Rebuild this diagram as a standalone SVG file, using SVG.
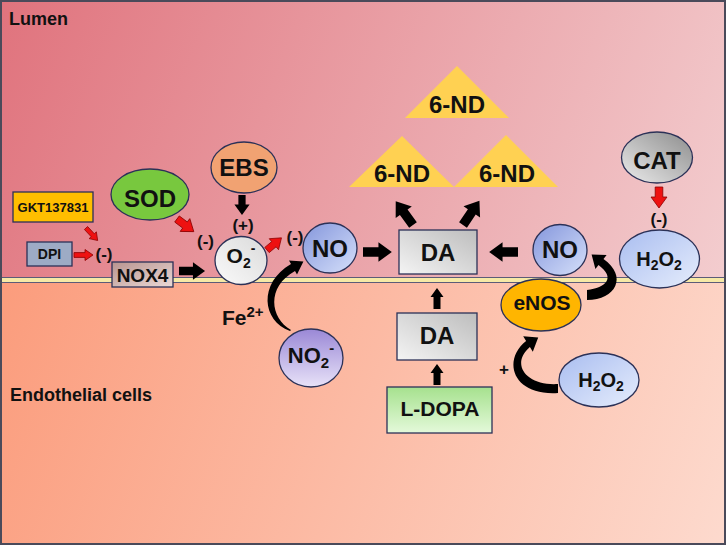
<svg xmlns="http://www.w3.org/2000/svg" xmlns:xlink="http://www.w3.org/1999/xlink" width="726" height="545" viewBox="0 0 726 545">
<defs>
<style>
text{font-family:"Liberation Sans",Arial,sans-serif;font-weight:bold;fill:#111;}
.node{stroke:#2B3157;stroke-width:1.3;}
.big{font-size:24px;}
.sign{font-size:17px;}
.lbl{font-size:18px;}
.blk{fill:#000;}
.red{fill:#EE1111;stroke:#8A0000;stroke-width:0.8;}
</style>
<linearGradient id="lumen" gradientUnits="userSpaceOnUse" x1="0" y1="0" x2="726" y2="280">
<stop offset="0" stop-color="#E0737D"/><stop offset="1" stop-color="#F3CDCF"/>
</linearGradient>
<linearGradient id="cell" gradientUnits="userSpaceOnUse" x1="0" y1="280" x2="726" y2="545">
<stop offset="0" stop-color="#FB9C7C"/><stop offset="1" stop-color="#FDDACE"/>
</linearGradient>
<linearGradient id="blue" x1="0" y1="0" x2="1" y2="1">
<stop offset="0" stop-color="#8496DC"/><stop offset="1" stop-color="#D6E0FA"/>
</linearGradient>
<linearGradient id="lblue" x1="0" y1="0" x2="1" y2="1">
<stop offset="0" stop-color="#A9BDF0"/><stop offset="1" stop-color="#E6EDFC"/>
</linearGradient>
<linearGradient id="gray" x1="1" y1="0" x2="0" y2="1">
<stop offset="0" stop-color="#BDBDBD"/><stop offset="1" stop-color="#F4F4F4"/>
</linearGradient>
<linearGradient id="cat" x1="1" y1="0" x2="0" y2="1">
<stop offset="0" stop-color="#8C8C8C"/><stop offset="1" stop-color="#ECECEC"/>
</linearGradient>
<linearGradient id="white" x1="1" y1="0" x2="0" y2="1">
<stop offset="0" stop-color="#DADADA"/><stop offset="1" stop-color="#FAFAFA"/>
</linearGradient>
<linearGradient id="purple" x1="0" y1="0" x2="0" y2="1">
<stop offset="0" stop-color="#9A88D6"/><stop offset="1" stop-color="#E8E2F8"/>
</linearGradient>
<linearGradient id="green" x1="0" y1="0" x2="0" y2="1">
<stop offset="0" stop-color="#A6E18E"/><stop offset="1" stop-color="#E4F9DA"/>
</linearGradient>
<linearGradient id="nox" x1="0" y1="0" x2="1" y2="1">
<stop offset="0" stop-color="#B8948F"/><stop offset="1" stop-color="#EBD9D6"/>
</linearGradient>
<path id="ab" d="M0,-4.5 H15 V-9.5 L28,0 L15,9.5 V4.5 H0 Z"/>
<path id="as" d="M0,-3.5 H12 V-6.5 L21,0 L12,6.5 V3.5 H0 Z"/>
<path id="rb" d="M0,-3.8 H10 V-8 L21,0 L10,8 V3.8 H0 Z"/>
<path id="rs" d="M0,-2.4 H11 V-5.5 L19,0 L11,5.5 V2.4 H0 Z"/>
</defs>

<!-- background -->
<rect x="0" y="0" width="726" height="280" fill="url(#lumen)"/>
<rect x="0" y="280" width="726" height="265" fill="url(#cell)"/>
<rect x="0" y="277.5" width="726" height="5" fill="#F6E9A6"/>
<line x1="0" y1="277.5" x2="726" y2="277.5" stroke="#5C5C78" stroke-width="1.2"/>
<line x1="0" y1="282.5" x2="726" y2="282.5" stroke="#5C5C78" stroke-width="1.2"/>
<rect x="1" y="1" width="724" height="543" fill="none" stroke="#4A4A5A" stroke-width="2"/>

<text class="lbl" x="9" y="25">Lumen</text>
<text class="lbl" x="10" y="401">Endothelial cells</text>

<!-- nodes -->
<g id="gkt"><rect class="node" x="13" y="192" width="80" height="30" fill="#FFBE00"/><text x="53" y="212" text-anchor="middle" font-size="13">GKT137831</text></g>
<g id="dpi"><rect class="node" x="27" y="242" width="45" height="24" fill="#9DABC5"/><text x="49.5" y="259" text-anchor="middle" font-size="14">DPI</text></g>
<g id="nox4"><rect class="node" x="112" y="262" width="61" height="25" fill="url(#nox)"/><text x="142.5" y="282" text-anchor="middle" font-size="19">NOX4</text></g>
<g id="sod"><ellipse class="node" cx="150" cy="194.5" rx="39" ry="25.5" fill="#78C83E"/><text class="big" x="150" y="207" text-anchor="middle">SOD</text></g>
<g id="ebs"><ellipse class="node" cx="244" cy="167.5" rx="33" ry="25.5" fill="#F1A272"/><text class="big" x="244" y="176" text-anchor="middle">EBS</text></g>
<g id="o2"><ellipse class="node" cx="241" cy="260.5" rx="26" ry="24" fill="url(#white)"/><text x="241" y="263" text-anchor="middle" font-size="21">O<tspan font-size="14" dy="5">2</tspan><tspan font-size="14" dy="-15">-</tspan></text></g>
<g id="no1"><ellipse class="node" cx="330" cy="248" rx="27" ry="25" fill="url(#blue)"/><text class="big" x="330" y="257" text-anchor="middle">NO</text></g>
<g id="no2m"><ellipse class="node" cx="311" cy="358" rx="32" ry="29" fill="url(#purple)"/><text x="311" y="363" text-anchor="middle" font-size="22">NO<tspan font-size="15" dy="5">2</tspan><tspan font-size="15" dy="-15">-</tspan></text></g>
<g id="da1"><rect class="node" x="399" y="230" width="78" height="44" fill="url(#gray)"/><text class="big" x="438" y="261" text-anchor="middle">DA</text></g>
<g id="nd1"><polygon points="457,66 509,118 405,118" fill="#FFD152"/><text class="big" x="457" y="113" text-anchor="middle">6-ND</text></g>
<g id="nd2"><polygon points="402,136 454,187 349,187" fill="#FFD152"/><text class="big" x="402" y="182" text-anchor="middle">6-ND</text></g>
<g id="nd3"><polygon points="506,135 558,187 454,187" fill="#FFD152"/><text class="big" x="507" y="182" text-anchor="middle">6-ND</text></g>
<g id="no3"><ellipse class="node" cx="560" cy="250" rx="27" ry="25.5" fill="url(#blue)"/><text class="big" x="560" y="258" text-anchor="middle">NO</text></g>
<g id="cat"><ellipse class="node" cx="657" cy="157.5" rx="35.5" ry="25.5" fill="url(#cat)"/><text class="big" x="657" y="169" text-anchor="middle">CAT</text></g>
<g id="h2o2a"><ellipse class="node" cx="659.5" cy="259" rx="40" ry="29" fill="url(#lblue)"/><text x="659" y="266" text-anchor="middle" font-size="20">H<tspan font-size="14" dy="4">2</tspan><tspan dy="-4">O</tspan><tspan font-size="14" dy="4">2</tspan></text></g>
<g id="enos"><ellipse class="node" cx="541" cy="305" rx="40" ry="26" fill="#FFB500"/><text x="542" y="310" text-anchor="middle" font-size="21">eNOS</text></g>
<g id="da2"><rect class="node" x="397" y="313" width="80" height="47" fill="url(#gray)"/><text class="big" x="437" y="344" text-anchor="middle">DA</text></g>
<g id="ldopa"><rect class="node" x="387" y="387" width="105" height="46" fill="url(#green)"/><text x="440" y="416" text-anchor="middle" font-size="21">L-DOPA</text></g>
<g id="h2o2b"><ellipse class="node" cx="599" cy="380" rx="40" ry="27" fill="url(#lblue)"/><text x="601" y="387" text-anchor="middle" font-size="20">H<tspan font-size="14" dy="4">2</tspan><tspan dy="-4">O</tspan><tspan font-size="14" dy="4">2</tspan></text></g>

<!-- connectors -->
<g id="connectors">
<use href="#rs" class="red" transform="translate(74,255)"/>
<use href="#rs" class="red" transform="translate(86,228) rotate(47) scale(0.9)"/>
<text class="sign" x="104" y="260" text-anchor="middle">(-)</text>
<use href="#ab" class="blk" transform="translate(179,271) scale(0.93)"/>
<use href="#rb" class="red" transform="translate(177,219) rotate(37)"/>
<text class="sign" x="205.5" y="247" text-anchor="middle">(-)</text>
<use href="#rb" class="blk" transform="translate(242,195) rotate(90) scale(0.95)"/>
<text class="sign" x="243" y="231" text-anchor="middle">(+)</text>
<use href="#rb" class="red" transform="translate(267,250) rotate(-40) scale(0.9)"/>
<text class="sign" x="295" y="243" text-anchor="middle">(-)</text>
<use href="#ab" class="blk" transform="translate(363,252) scale(1.03)"/>
<use href="#ab" class="blk" transform="translate(413,225) rotate(-126) scale(1.05)"/>
<use href="#ab" class="blk" transform="translate(463,225) rotate(-56) scale(1.05)"/>
<use href="#ab" class="blk" transform="translate(518,252) rotate(180) scale(1.03)"/>
<use href="#rb" class="red" transform="translate(659,187) rotate(90)"/>
<text class="sign" x="659" y="225" text-anchor="middle">(-)</text>
<use href="#as" class="blk" transform="translate(437,309) rotate(-90)"/>
<use href="#as" class="blk" transform="translate(437,385) rotate(-90)"/>
<path class="blk" d="M290,331 C262,321 258,283 291,264 L289,260.6 L303.4,261.5 L297,274.4 L295,271 C266,287 270,318 291,330 Z"/>
<text x="222" y="325" font-size="21">Fe<tspan font-size="15" dy="-8">2+</tspan></text>
<path class="blk" d="M587,290 C606,288 616,278 598.5,265.1 L595.4,269.1 L591.6,254.6 L606.6,254.9 L603.5,258.9 C628,276 616,300 587,300 Z"/>
<path class="blk" d="M558,384 C526,386 510,364 529.9,347 L532.8,351.7 L538.2,337.6 L523.2,336.3 L526.1,341 C502,360 512,396 558,393 Z"/>
<text x="504" y="375" text-anchor="middle" font-size="17">+</text>
</g>
</svg>
